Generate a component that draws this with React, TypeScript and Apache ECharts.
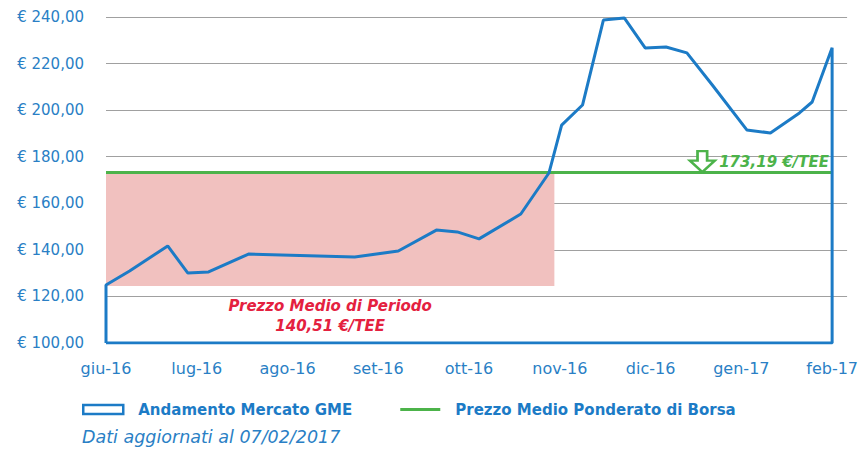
import React, { useEffect, useRef } from "react";
import * as echarts from "echarts";

const monthLabels = ["giu-16", "lug-16", "ago-16", "set-16", "ott-16", "nov-16", "dic-16", "gen-17", "feb-17"];
// positions in months from giu-16 and prices (€/TEE)
const pointMonths = [0, 0.26, 0.68, 0.9, 1.13, 1.57, 2.74, 3.22, 3.64, 3.87, 4.11, 4.57, 4.88, 5.02, 5.25, 5.48, 5.71, 5.94, 6.17, 6.4, 6.68, 7.06, 7.32, 7.64, 7.78, 8.0];
const gmePrices = [124.9, 130.9, 141.7, 130.1, 130.5, 138.2, 136.9, 139.5, 148.5, 147.7, 144.7, 155.4, 173.0, 193.6, 202.2, 238.7, 239.6, 226.7, 227.1, 224.6, 210.8, 191.5, 190.2, 198.8, 203.5, 226.8];
const weightedAverage = 173.19;
const periodAverage = 140.51;
const periodAreaMonths = [0, 4.94];
const periodAreaBottom = 124.5;
const arrowMonth = 6.57;
const yMin = 100;
const yMax = 240;

const BLUE = "#1c7bc6";
const LABEL_BLUE = "#2a7fc5";
const GREEN = "#4cb34a";
const RED = "#e4213f";
const FONT = "'DejaVu Sans', sans-serif";

export default function App() {
  const ref = useRef<HTMLDivElement>(null);
  useEffect(() => {
    if (!ref.current) return;
    const chart = echarts.init(ref.current, undefined, { renderer: "svg" });
    const pts = pointMonths.map((m, i) => [m, gmePrices[i]]);
    const last = pointMonths[pointMonths.length - 1];
    const polygon = [[pointMonths[0], yMin], ...pts, [last, yMin], [pointMonths[0], yMin]];
    const fmt = (v: number) => v.toFixed(2).replace(".", ",");
    chart.setOption({
      animation: false,
      grid: { left: 106, right: 13, top: 17, bottom: 108 },
      xAxis: {
        type: "value",
        min: 0,
        max: 8.165,
        interval: 1,
        axisLine: { show: false },
        axisTick: { show: false },
        splitLine: { show: false },
        axisLabel: {
          color: LABEL_BLUE,
          fontFamily: FONT,
          fontSize: 16,
          margin: 17,
          showMaxLabel: false,
          formatter: (v: number) => (Number.isInteger(v) && monthLabels[v] ? monthLabels[v] : ""),
        },
      },
      yAxis: {
        type: "value",
        min: yMin,
        max: yMax,
        interval: 20,
        axisLine: { show: false },
        axisTick: { show: false },
        splitLine: { showMinLine: false, lineStyle: { color: "#a0a0a0", width: 1 } },
        axisLabel: {
          color: LABEL_BLUE,
          fontFamily: FONT,
          fontSize: 15,
          margin: 22,
          formatter: (v: number) => "€ " + fmt(v),
        },
      },
      legend: {
        left: 82,
        top: 402,
        padding: 0,
        itemWidth: 40,
        itemHeight: 9,
        itemGap: 48,
        textStyle: { color: BLUE, fontFamily: FONT, fontWeight: "bold", fontSize: 15, padding: [0, 0, 0, 10] },
        data: [
          { name: "Andamento Mercato GME", icon: "rect", itemStyle: { color: "#ffffff", borderColor: BLUE, borderWidth: 2.5 } },
          { name: "Prezzo Medio Ponderato di Borsa", icon: "path://M0,0 H40 V3 H0 Z", itemStyle: { color: GREEN, borderWidth: 0 } },
        ],
      },
      graphic: [
        {
          type: "text",
          left: 82,
          top: 428,
          style: { text: "Dati aggiornati al 07/02/2017", fill: LABEL_BLUE, font: `italic 17.5px ${FONT}` },
        },
      ],
      series: [
        {
          name: "Prezzo Medio Ponderato di Borsa",
          type: "line",
          symbol: "none",
          z: 2,
          data: [[0, weightedAverage], [last, weightedAverage]],
          lineStyle: { color: GREEN, width: 3 },
          itemStyle: { color: GREEN },
          markArea: {
            silent: true,
            itemStyle: { color: "#f1c1bf" },
            label: {
              position: "bottom",
              distance: 10,
              color: RED,
              fontFamily: FONT,
              fontStyle: "italic",
              fontWeight: "bold",
              fontSize: 15,
              lineHeight: 20,
              align: "center",
              formatter: "Prezzo Medio di Periodo\n" + fmt(periodAverage) + " €/TEE",
            },
            data: [[{ coord: [periodAreaMonths[0], weightedAverage] }, { coord: [periodAreaMonths[1], periodAreaBottom] }]],
          },
          markPoint: {
            silent: true,
            symbol: "path://M8,0 H18 V10 H26 L13,22 L0,10 H8 Z",
            symbolSize: [25, 21],
            symbolOffset: [0, -11],
            itemStyle: { color: "#ffffff", borderColor: GREEN, borderWidth: 2.5 },
            label: {
              show: true,
              position: "right",
              distance: 3,
              color: GREEN,
              fontFamily: FONT,
              fontStyle: "italic",
              fontWeight: "bold",
              fontSize: 15,
              formatter: fmt(weightedAverage) + " €/TEE",
            },
            data: [{ coord: [arrowMonth, weightedAverage] }],
          },
        },
        {
          name: "Andamento Mercato GME",
          type: "line",
          symbol: "none",
          z: 3,
          data: polygon,
          lineStyle: { color: BLUE, width: 3 },
          itemStyle: { color: BLUE },
        },
      ],
    });
    return () => chart.dispose();
  }, []);
  return <div ref={ref} style={{ width: 861, height: 451, position: "absolute", left: 0, top: 0 }} />;
}
